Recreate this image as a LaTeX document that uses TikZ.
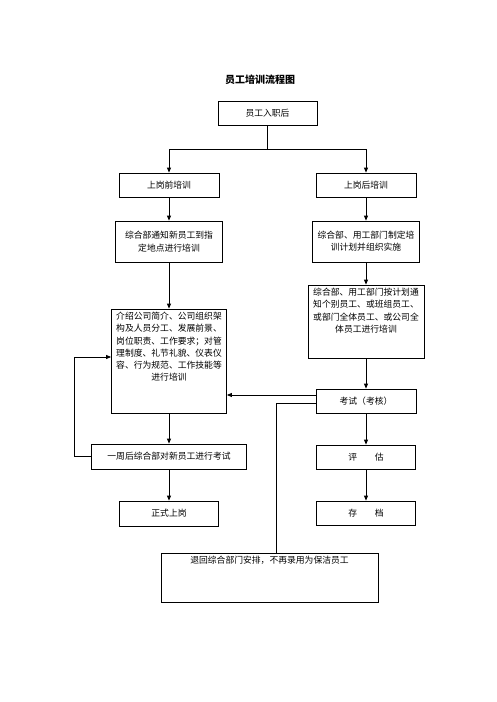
\documentclass[tikz,border=0pt]{standalone}
\usepackage{fontspec}
\setmainfont{Noto Sans CJK SC}
\usetikzlibrary{arrows.meta}

\begin{document}
\begin{tikzpicture}
  [x=1pt,y=-1pt,line width=.8pt,
   every node/.style={font=\fontsize{8.8pt}{12.3pt}\selectfont},
   box/.style={draw,rectangle,align=center,inner sep=0pt},
   arr/.style={-{Triangle[length=5pt,width=4pt]}}]
  \useasboundingbox (0,0) rectangle (496,702);
  \node[font=\bfseries\fontsize{10pt}{12pt}\selectfont] (title) at (260,80) {员工培训流程图};
  \node[box,minimum width=99pt,minimum height=24pt] (join) at (267.5,113) {员工入职后};
  \coordinate (split) at (267.5,149);
  % left column
  \node[box,minimum width=100pt,minimum height=24pt] (pre) at (169,185) {上岗前培训};
  \node[box,minimum width=107pt,minimum height=41pt] (notify) at (169,241.5)
    {综合部通知新员工到指\\定地点进行培训};
  \node[box] (train) at (169,361)
    {\parbox[c][104pt][t]{115pt}{\centering\vspace*{3pt}%
     介绍公司简介、公司组织架\\构及人员分工、发展前景、\\岗位职责、工作要求；对管\\
     理制度、礼节礼貌、仪表仪\\容、行为规范、工作技能等\\进行培训}};
  \node[box,minimum width=155pt,minimum height=25pt] (week) at (169,456.5) {一周后综合部对新员工进行考试};
  \node[box,minimum width=99pt,minimum height=25pt] (onduty) at (169,513.5) {正式上岗};
  % right column
  \node[box,minimum width=100pt,minimum height=24pt] (post) at (366,185) {上岗后培训};
  \node[box,minimum width=107pt,minimum height=41pt] (plan) at (366,241.5)
    {综合部、用工部门制定培\\训计划并组织实施};
  \node[box] (notice) at (366,321.5)
    {\parbox[c][73pt][t]{116pt}{\centering\vspace*{3pt}%
     综合部、用工部门按计划通\\知个别员工、或班组员工、\\或部门全体员工、或公司全\\体员工进行培训}};
  \node[box,minimum width=100pt,minimum height=24pt] (exam) at (366,401) {考试（考核）};
  \node[box,minimum width=99pt,minimum height=24pt] (eval) at (366,457) {评\hspace{2em}估};
  \node[box,minimum width=99pt,minimum height=24pt] (archive) at (366,513) {存\hspace{2em}档};
  \node[box] (back) at (269.5,577.5)
    {\parbox[c][49pt][t]{217pt}{\centering\vspace*{3pt}退回综合部门安排，不再录用为保洁员工}};
  % connectors
  \draw (join) -- (split);
  \draw[arr] (split) -| (pre);
  \draw[arr] (split) -| (post);
  \draw[arr] (pre) -- (notify);
  \draw[arr] (notify) -- (train);
  \draw[arr] (train) -- (week);
  \draw[arr] (week) -- (onduty);
  \draw[arr] (post) -- (plan);
  \draw[arr] (plan) -- (notice);
  \draw[arr] (notice) -- (exam);
  \draw[arr] (exam) -- (eval);
  \draw[arr] (eval) -- (archive);
  \draw[arr] ([yshift=6pt]exam.west) -- ([yshift=6pt]exam.west -| train.east);
  \draw ([yshift=-2pt]exam.west) -| ([xshift=6.5pt]back.north);
  \draw[arr] (week.west) -- ++(-17,0) |- ([yshift=4pt]train.west);
\end{tikzpicture}
\end{document}
